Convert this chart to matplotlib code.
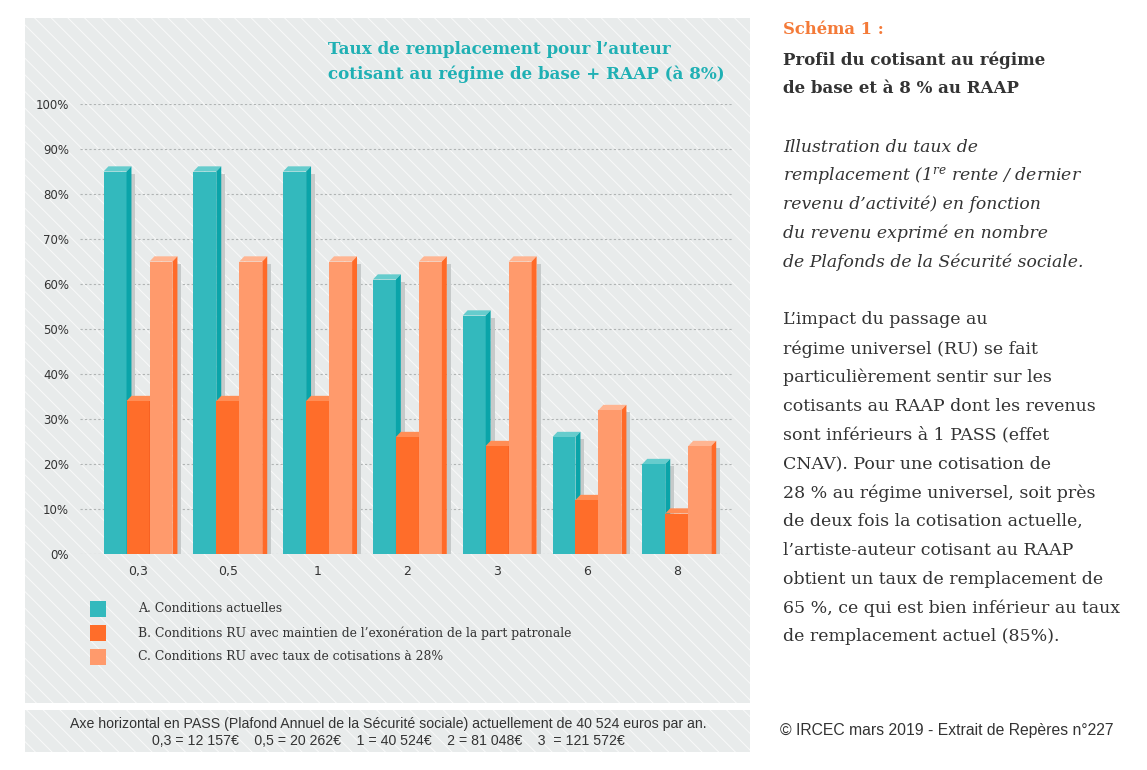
import numpy as np
import matplotlib
matplotlib.use("Agg")
import matplotlib.pyplot as plt
from matplotlib.patches import Rectangle, Polygon

W, H = 1147, 770

# data
categories = ["0,3", "0,5", "1", "2", "3", "6", "8"]
serie_a = [85, 85, 85, 61, 53, 26, 20]   # A. Conditions actuelles
serie_b = [34, 34, 34, 26, 24, 12, 9]    # B. RU avec maintien de l'exonération
serie_c = [65, 65, 65, 65, 65, 32, 24]   # C. RU avec taux à 28%
y_ticks = [0, 10, 20, 30, 40, 50, 60, 70, 80, 90, 100]
legend_labels = [
    "A. Conditions actuelles",
    "B. Conditions RU avec maintien de l\u2019exonération de la part patronale",
    "C. Conditions RU avec taux de cotisations à 28%",
]
title_lines = ["Taux de remplacement pour l\u2019auteur",
               "cotisant au régime de base + RAAP (à 8%)"]
head_lines = ["Profil du cotisant au régime", "de base et à 8 % au RAAP"]
italic_lines = [
    "Illustration du taux de",
    "remplacement (1$^{\\mathregular{re}}$ rente / dernier",
    "revenu d\u2019activité) en fonction",
    "du revenu exprimé en nombre",
    "de Plafonds de la Sécurité sociale.",
]
body_lines = [
    "L\u2019impact du passage au",
    "régime universel (RU) se fait",
    "particulièrement sentir sur les",
    "cotisants au RAAP dont les revenus",
    "sont inférieurs à 1 PASS (effet",
    "CNAV). Pour une cotisation de",
    "28 % au régime universel, soit près",
    "de deux fois la cotisation actuelle,",
    "l\u2019artiste-auteur cotisant au RAAP",
    "obtient un taux de remplacement de",
    "65 %, ce qui est bien inférieur au taux",
    "de remplacement actuel (85%).",
]
note_lines = [
    "Axe horizontal en PASS (Plafond Annuel de la Sécurité sociale) actuellement de 40 524 euros par an.",
    "0,3 = 12 157€    0,5 = 20 262€    1 = 40 524€    2 = 81 048€    3  = 121 572€",
]

# colours: front, top, side
col_a = ("#33b9bd", "#66cccd", "#0aa4a9")
col_b = ("#ff6d2a", "#ff8d55", "#f0561b")
col_c = ("#ff9a6c", "#ffb592", "#ff6a28")
teal_txt = "#1fb0b4"
orange_txt = "#f47a38"
dark = "#333333"
serif = "DejaVu Serif"

plt.rcParams["hatch.linewidth"] = 0.7
plt.rcParams["mathtext.fontset"] = "custom"
plt.rcParams["mathtext.rm"] = "DejaVu Serif:italic"
plt.rcParams["mathtext.it"] = "DejaVu Serif:italic"

def fx(px):
    return px / W

def fy(py):
    return 1 - py / H

fig = plt.figure(figsize=(W / 100, H / 100), dpi=100)
fig.patch.set_facecolor("white")

# hatched panels
for (x0, y0, x1, y1) in [(25, 18, 750, 703), (25, 710, 750, 752)]:
    fig.patches.append(Rectangle((fx(x0), fy(y1)), fx(x1) - fx(x0), fy(y0) - fy(y1),
                                 transform=fig.transFigure, facecolor="#e8ebeb",
                                 edgecolor="#f9fafa", hatch="\\\\", linewidth=0, zorder=-5))

ax = fig.add_axes([fx(80), fy(554), fx(733) - fx(80), fy(104) - fy(554)])
ax.set_facecolor("none")
ax.set_xlim(-0.646, 6.626)
ax.set_ylim(0, 100)
for s in ax.spines.values():
    s.set_visible(False)

for t in y_ticks:
    ax.axhline(t, color="#b0b4b4", lw=0.8, ls=(0, (2, 2)), zorder=1)

x = np.arange(len(categories))
bw = 0.256
dx, dy = 0.055, 1.15

def bars3d(xpos, vals, cols, z):
    front, top, side = cols
    ax.bar(xpos, vals, width=bw, color=front, zorder=z + 0.5, linewidth=0)
    for xc, v in zip(xpos, vals):
        l, r = xc - bw / 2, xc + bw / 2
        # shadow
        ax.add_patch(Rectangle((r + dx, 0), 0.045, v - 0.5, facecolor="#c6caca",
                               lw=0, zorder=z))
        ax.add_patch(Polygon([(l, v), (r, v), (r + dx, v + dy), (l + dx, v + dy)],
                             closed=True, facecolor=top, lw=0, zorder=z + 0.6, clip_on=False))
        ax.add_patch(Polygon([(r, 0), (r, v), (r + dx, v + dy), (r + dx, 0)],
                             closed=True, facecolor=side, lw=0, zorder=z + 0.6, clip_on=False))

bars3d(x - bw, serie_a, col_a, 2)
bars3d(x, serie_b, col_b, 3)
bars3d(x + bw, serie_c, col_c, 4)

ax.set_yticks(y_ticks)
ax.set_yticklabels([f"{t}%" for t in y_ticks], fontsize=8.5, color="#333333",
                   family="DejaVu Sans")
ax.set_xticks(x)
ax.set_xticklabels(categories, fontsize=9, color="#333333", family="DejaVu Sans")
ax.tick_params(axis="both", length=0)
ax.tick_params(axis="y", pad=8)
ax.tick_params(axis="x", pad=8)

# chart title
for i, line in enumerate(title_lines):
    fig.text(fx(328), fy(49 + 25 * i), line, fontsize=12.05, fontweight="bold",
             color=teal_txt, family=serif, va="center", ha="left")

# legend
for i, (lab, c) in enumerate(zip(legend_labels, [col_a, col_b, col_c])):
    yc = 609 + 24 * i
    fig.patches.append(Rectangle((fx(90), fy(yc + 8)), fx(106) - fx(90), fy(yc - 8) - fy(yc + 8),
                                 transform=fig.transFigure, facecolor=c[0], lw=0, zorder=2))
    fig.text(fx(138), fy(yc), lab, fontsize=8.9, color=dark, family=serif,
             va="center", ha="left")

# footnote
for i, line in enumerate(note_lines):
    fig.text(fx(388), fy(724 + 17 * i), line, fontsize=10.2, color=dark,
             family="Liberation Sans", va="center", ha="center")

# right column
fig.text(fx(783), fy(30), "Schéma 1 :", fontsize=11.8, fontweight="bold", color=orange_txt,
         family=serif, va="center")
for i, line in enumerate(head_lines):
    fig.text(fx(783), fy(60 + 28.5 * i), line, fontsize=12, fontweight="bold", color=dark,
             family=serif, va="center")
for i, line in enumerate(italic_lines):
    fig.text(fx(783), fy(147 + 28.8 * i), line, fontsize=12.4, style="italic", color=dark,
             family=serif, va="center")
for i, line in enumerate(body_lines):
    fig.text(fx(783), fy(320 + 28.8 * i), line, fontsize=12.5, color=dark,
             family=serif, va="center")
fig.text(fx(780), fy(731), "© IRCEC mars 2019 - Extrait de Repères n°227", fontsize=11.3,
         color=dark, family="Liberation Sans", va="center")

fig.savefig("out.png", dpi=100)
